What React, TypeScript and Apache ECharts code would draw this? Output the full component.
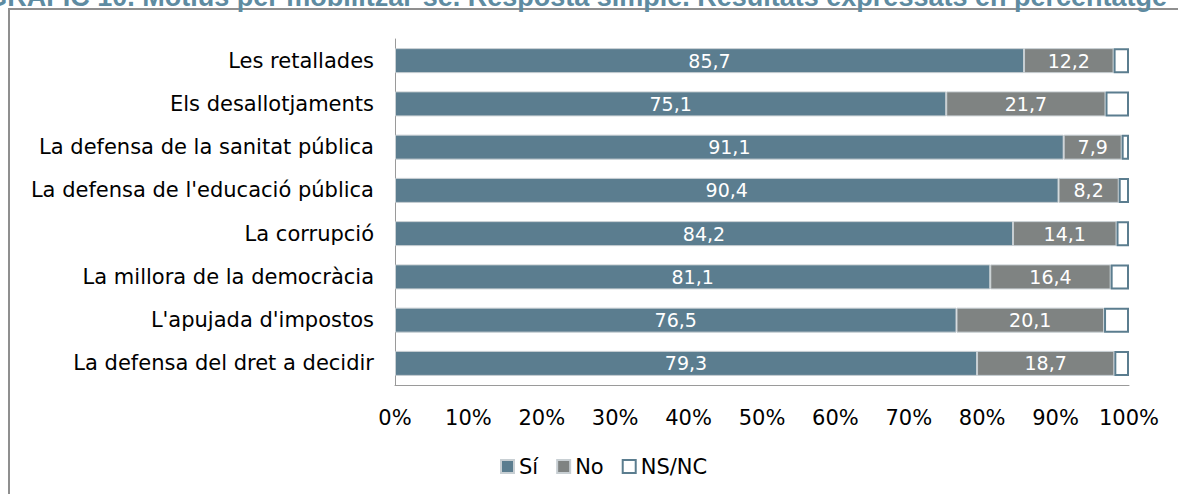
import React, { useEffect, useRef } from "react";
import * as echarts from "echarts";

const titleText =
  "GRÀFIC 10. Motius per mobilitzar-se. Resposta simple. Resultats expressats en percentatge";
const categories = [
  "Les retallades",
  "Els desallotjaments",
  "La defensa de la sanitat pública",
  "La defensa de l'educació pública",
  "La corrupció",
  "La millora de la democràcia",
  "L'apujada d'impostos",
  "La defensa del dret a decidir",
];
const siValues = [85.7, 75.1, 91.1, 90.4, 84.2, 81.1, 76.5, 79.3];
const noValues = [12.2, 21.7, 7.9, 8.2, 14.1, 16.4, 20.1, 18.7];
const nsncValues = [2.1, 3.2, 1.0, 1.4, 1.7, 2.5, 3.4, 2.0];
const seriesNames = ["Sí", "No", "NS/NC"];

const FONT = '"DejaVu Sans", "Liberation Sans", Arial, sans-serif';
const BLUE = "#5b7d8f";
const GRAY = "#7f8382";

const fmt = (v: number) => v.toFixed(1).replace(".", ",");

export default function App() {
  const ref = useRef<HTMLDivElement>(null);
  useEffect(() => {
    document.body.style.margin = "0";
    if (!ref.current) return;
    const chart = echarts.init(ref.current, null, { renderer: "svg" });
    const label = {
      show: true,
      position: "inside",
      color: "#ffffff",
      fontFamily: FONT,
      fontSize: 19,
      formatter: (p: any) => fmt(p.value),
    };
    chart.setOption({
      animation: false,
      backgroundColor: "#ffffff",
      textStyle: { fontFamily: FONT },
      graphic: [
        {
          type: "rect",
          shape: { x: 9, y: 9, width: 1400, height: 700 },
          style: { fill: "none", stroke: "#8f8f8f", lineWidth: 2 },
          silent: true,
        },
        {
          type: "text",
          x: 1167,
          y: -3,
          style: {
            text: titleText,
            font: 'bold 27px "Liberation Sans", Arial, sans-serif',
            fill: "#5e8ba1",
            align: "right",
            verticalAlign: "middle",
          },
          silent: true,
        },
      ],
      grid: { left: 395, right: 49, top: 39, bottom: 109 },
      legend: {
        data: seriesNames,
        left: 495,
        top: 451,
        itemWidth: 13,
        itemHeight: 13,
        itemGap: 18,
        icon: "rect",
        textStyle: { fontFamily: FONT, fontSize: 21, color: "#000" },
      },
      xAxis: {
        type: "value",
        min: 0,
        max: 100,
        interval: 10,
        axisLine: { show: true, lineStyle: { color: "#9a9a9a", width: 1 } },
        axisTick: { show: false },
        splitLine: { show: false },
        axisLabel: {
          formatter: "{value}%",
          fontFamily: FONT,
          fontSize: 21,
          color: "#000",
          margin: 22,
        },
      },
      yAxis: {
        type: "category",
        data: categories,
        inverse: true,
        axisLine: { show: true, lineStyle: { color: "#9a9a9a", width: 1 } },
        axisTick: { show: false },
        axisLabel: {
          fontFamily: FONT,
          fontSize: 21,
          color: "#000",
          margin: 21,
        },
      },
      series: [
        {
          name: seriesNames[0],
          type: "bar",
          stack: "total",
          barWidth: 25,
          data: siValues,
          itemStyle: { color: BLUE, borderColor: "#c8cfd3", borderWidth: 1 },
          label,
        },
        {
          name: seriesNames[1],
          type: "bar",
          stack: "total",
          barWidth: 25,
          data: noValues,
          itemStyle: { color: GRAY, borderColor: "#c8cfd3", borderWidth: 1 },
          label,
        },
        {
          name: seriesNames[2],
          type: "bar",
          stack: "total",
          barWidth: 25,
          data: nsncValues,
          itemStyle: { color: "#ffffff", borderColor: BLUE, borderWidth: 2 },
          label: { show: false },
        },
      ],
    });
    return () => chart.dispose();
  }, []);
  return <div ref={ref} style={{ width: 1178, height: 494 }} />;
}
